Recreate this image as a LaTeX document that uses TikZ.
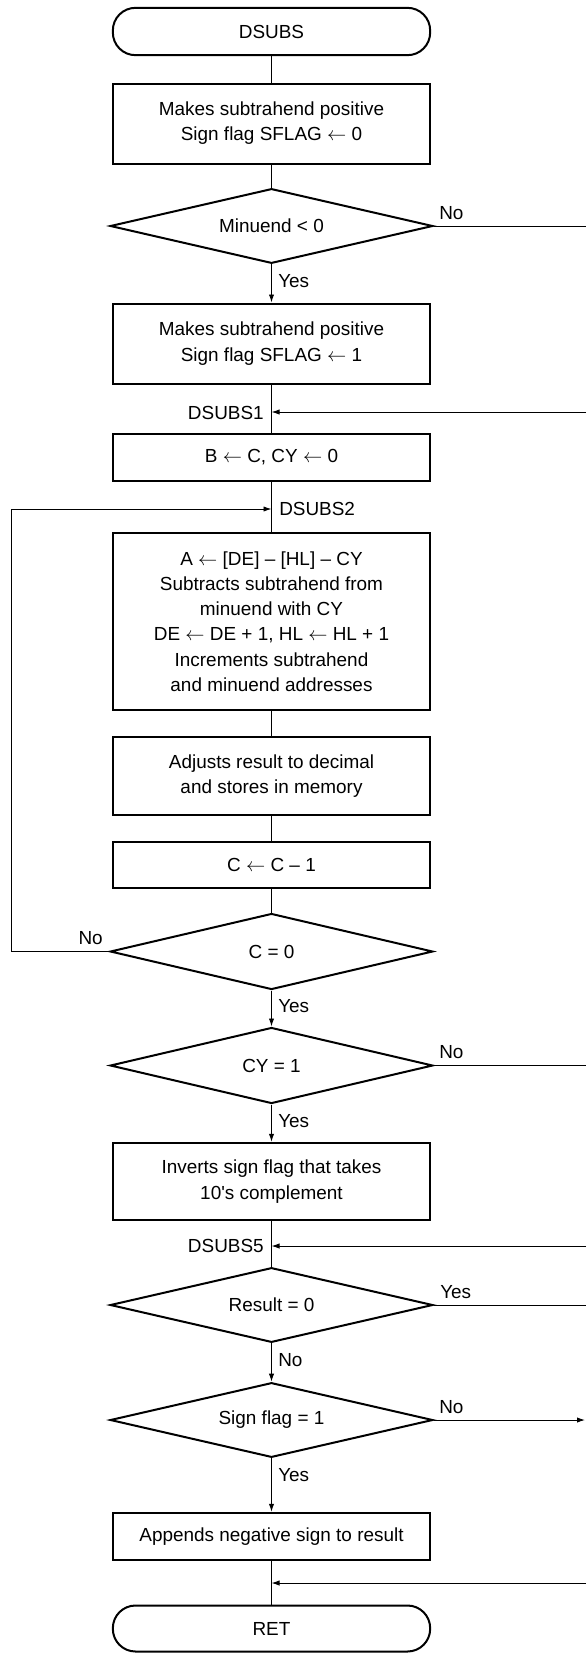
\documentclass[tikz,border=0pt]{standalone}
\usepackage{fontspec}
\setmainfont{Liberation Sans}
\usetikzlibrary{shapes.geometric,arrows.meta}
\begin{document}
\begin{tikzpicture}[x=0.75pt,y=-0.75pt,
  every node/.style={font=\fontsize{14.2pt}{18.9pt}\selectfont},
  procbox/.style={draw,line width=1.5pt,minimum width=238pt,align=center,inner sep=0pt},
  termbox/.style={draw,line width=1.5pt,minimum width=238pt,rounded corners=17pt,inner sep=0pt},
  decbox/.style={draw,diamond,line width=1.5pt,minimum width=242pt,aspect=4.25,inner sep=0pt},
  conn/.style={line width=0.7pt},
  arr/.style={conn,-{Latex[length=6pt,width=4pt]}},
  lbl/.style={inner sep=0pt}
]
\useasboundingbox (0,0) rectangle (586,1653);
% main column
\node[termbox,minimum height=35.5pt] (start) at (271.5,31.5) {DSUBS};
\node[procbox,minimum height=60pt] (b1) at (271.5,123.5) {Makes subtrahend positive\\Sign flag SFLAG $\leftarrow$ 0};
\node[decbox,minimum height=56pt] (d1) at (271.5,226) {Minuend < 0};
\node[procbox,minimum height=60pt] (b2) at (271.5,343.5) {Makes subtrahend positive\\Sign flag SFLAG $\leftarrow$ 1};
\coordinate (j1) at (271.5,412);
\node[procbox,minimum height=35.5pt] (b3) at (271.5,457.5) {B $\leftarrow$ C, CY $\leftarrow$ 0};
\coordinate (j2) at (271.5,509);
\node[procbox,minimum height=133pt] (b4) at (271.5,621.5) {A $\leftarrow$ [DE] -- [HL] -- CY\\Subtracts subtrahend from\\minuend with CY\\DE $\leftarrow$ DE + 1, HL $\leftarrow$ HL + 1\\Increments subtrahend\\and minuend addresses};
\node[procbox,minimum height=59pt] (b5) at (271.5,776) {Adjusts result to decimal\\and stores in memory};
\node[procbox,minimum height=35pt] (b6) at (271.5,865) {C $\leftarrow$ C -- 1};
\node[decbox,minimum height=57pt] (d2) at (271.5,951.5) {C = 0};
\node[decbox,minimum height=57pt] (d3) at (271.5,1065.5) {CY = 1};
\node[procbox,minimum height=58pt] (b7) at (271.5,1181.5) {Inverts sign flag that takes\\10\textquotesingle s complement};
\coordinate (j5) at (271.5,1246);
\node[decbox,minimum height=56pt] (d4) at (271.5,1305) {Result = 0};
\node[decbox,minimum height=56pt] (d5) at (271.5,1420) {Sign flag = 1};
\node[procbox,minimum height=35.5pt] (b8) at (271.5,1536.5) {Appends negative sign to result};
\coordinate (j6) at (271.5,1583);
\node[termbox,minimum height=34.5pt] (ret) at (271.5,1628.5) {RET};
% right-edge ends and loop corner
\coordinate (r1) at (586,226);
\coordinate (r1b) at (586,412);
\coordinate (r3) at (586,1065.5);
\coordinate (r3b) at (586,1246);
\coordinate (r4) at (586,1305);
\coordinate (r4b) at (586,1583);
\coordinate (r5) at (585,1420);
\coordinate (lp) at (11,509);
% vertical connectors
\draw[conn] (start) -- (b1);
\draw[conn] (b1) -- (d1);
\draw[arr] (d1) -- (b2);
\draw[conn] (b2) -- (b3);
\draw[conn] (b3) -- (b4);
\draw[conn] (b4) -- (b5);
\draw[conn] (b5) -- (b6);
\draw[conn] (b6) -- (d2);
\draw[arr] (d2) -- (d3);
\draw[arr] (d3) -- (b7);
\draw[conn] (b7) -- (d4);
\draw[arr] (d4) -- (d5);
\draw[arr] (d5) -- (b8);
\draw[conn] (b8) -- (ret);
% side connectors
\draw[conn] (d1.east) -- (r1);
\draw[arr] (r1b) -- (j1);
\draw[arr] (d2.west) -| (lp) -- (j2);
\draw[conn] (d3.east) -- (r3);
\draw[arr] (r3b) -- (j5);
\draw[conn] (d4.east) -- (r4);
\draw[arr] (r4b) -- (j6);
\draw[arr] (d5.east) -- (r5);
% labels
\node[lbl,anchor=base west] (l1n) at (439,219) {No};
\node[lbl,anchor=base west] (l1y) at (278,287) {Yes};
\node[lbl,anchor=base east] (lds1) at (264,419) {DSUBS1};
\node[lbl,anchor=base west] (lds2) at (279,515) {DSUBS2};
\node[lbl,anchor=base east] (l2n) at (103,944) {No};
\node[lbl,anchor=base west] (l2y) at (278,1012) {Yes};
\node[lbl,anchor=base west] (l3n) at (439,1058) {No};
\node[lbl,anchor=base west] (l3y) at (278,1127) {Yes};
\node[lbl,anchor=base east] (lds5) at (264,1252) {DSUBS5};
\node[lbl,anchor=base west] (l4y) at (440,1298) {Yes};
\node[lbl,anchor=base west] (l4n) at (278,1366) {No};
\node[lbl,anchor=base west] (l5n) at (439,1413) {No};
\node[lbl,anchor=base west] (l5y) at (278,1481) {Yes};
\end{tikzpicture}
\end{document}
